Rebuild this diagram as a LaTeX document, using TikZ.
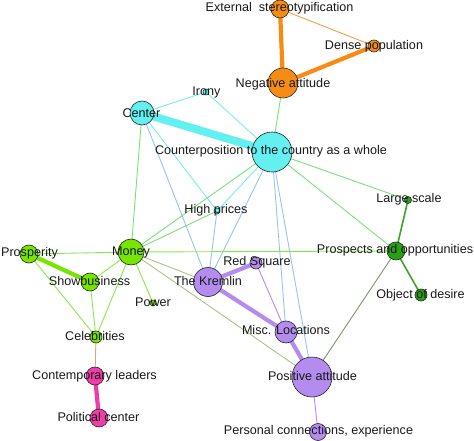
\documentclass[tikz,border=0pt]{standalone}
\usepackage{fontspec}
\setmainfont{Liberation Sans}
\pgfdeclarelayer{bg}
\pgfsetlayers{bg,main}
\definecolor{cOr}{RGB}{247,140,20}
\definecolor{cCy}{RGB}{100,240,240}
\definecolor{cGr}{RGB}{118,230,0}
\definecolor{cDg}{RGB}{40,160,20}
\definecolor{cPu}{RGB}{180,140,240}
\definecolor{cPk}{RGB}{238,60,168}
\definecolor{eGG}{RGB}{135,232,75}
\definecolor{eGC}{RGB}{120,225,120}
\definecolor{eCC}{RGB}{120,236,236}
\definecolor{eCP}{RGB}{150,195,240}
\definecolor{eGP}{RGB}{170,195,135}
\definecolor{eDP}{RGB}{115,150,100}
\definecolor{eDG}{RGB}{60,165,40}
\definecolor{eGK}{RGB}{200,175,115}
\definecolor{eOO}{RGB}{245,160,70}
\definecolor{ePP}{RGB}{180,140,240}
\tikzset{
  vtx/.style={circle, draw=black!85, line width=0.6pt, minimum size=#1, inner sep=0pt},
  lbl/.style={inner sep=0pt, text height=9pt, text depth=2.6pt, font=\fontsize{12.6}{14}\selectfont, text=black!90},
  thin edge/.style={line width=0.9pt},
  mid edge/.style={line width=1.6pt},
  thick edge/.style={line width=4.2pt},
}
\begin{document}
\begin{tikzpicture}[x=1pt,y=-1pt]
\useasboundingbox (0,0) rectangle (474,441);
% circles
\node[vtx=18pt, fill=cOr] (es) at (280,9) {};
\node[vtx=12pt, fill=cOr] (dp) at (374,46) {};
\node[vtx=30pt, fill=cOr] (na) at (283,83) {};
\node[vtx=6pt, fill=cCy] (ir) at (206,92) {};
\node[vtx=24pt, fill=cCy] (ce) at (142,113) {};
\node[vtx=40pt, fill=cCy] (cp) at (272,152) {};
\node[vtx=6pt, fill=cCy] (hp) at (217,211) {};
\node[vtx=7pt, fill=cDg] (ls) at (408,200) {};
\node[vtx=18pt, fill=cGr] (pr) at (29,254) {};
\node[vtx=26pt, fill=cGr] (mo) at (131,252) {};
\node[vtx=18pt, fill=cDg] (po) at (396,251) {};
\node[vtx=12pt, fill=cPu] (rs) at (256,263) {};
\node[vtx=18pt, fill=cGr] (sb) at (90,282) {};
\node[vtx=29pt, fill=cPu] (kr) at (208,282) {};
\node[vtx=12pt, fill=cDg] (od) at (421,295) {};
\node[vtx=6pt, fill=cGr] (pw) at (153,303) {};
\node[vtx=12pt, fill=cGr] (cb) at (96,337) {};
\node[vtx=22pt, fill=cPu] (ml) at (286,332) {};
\node[vtx=18pt, fill=cPk] (cl) at (95,376) {};
\node[vtx=40pt, fill=cPu] (pa) at (312,377) {};
\node[vtx=18pt, fill=cPk] (pc) at (99,418) {};
\node[vtx=17pt, fill=cPu] (pe) at (318,432) {};
% edges
\begin{pgfonlayer}{bg}
\draw[thick edge, cOr] (es.center) -- (na.center);
\draw[thick edge, cOr] (na.center) -- (dp.center);
\draw[thin edge, eOO] (es.center) -- (dp.center);
\draw[thin edge, eGC] (na.center) -- (cp.center);
\draw[line width=8pt, cCy] (ce.center) -- (cp.center);
\draw[thin edge, eCC] (ce.center) -- (ir.center);
\draw[thin edge, eCC] (ir.center) -- (cp.center);
\draw[thin edge, eCC] (ce.center) -- (hp.center);
\draw[thin edge, eCC] (cp.center) -- (hp.center);
\draw[thin edge, eGC] (ce.center) -- (mo.center);
\draw[thin edge, eCP] (ce.center) -- (kr.center);
\draw[thin edge, eGC] (cp.center) -- (mo.center);
\draw[thin edge, eCP] (cp.center) -- (kr.center);
\draw[thin edge, eCP] (cp.center) -- (ml.center);
\draw[thin edge, eCP] (cp.center) -- (pa.center);
\draw[thin edge, eGC] (cp.center) -- (ls.center);
\draw[thin edge, eGC] (cp.center) -- (po.center);
\draw[thin edge, eGC] (mo.center) -- (hp.center);
\draw[thin edge, eCP] (hp.center) -- (kr.center);
\draw[thin edge, eGG] (mo.center) -- (po.center);
\draw[thin edge, eGG] (mo.center) -- (pr.center);
\draw[thin edge, eGG] (mo.center) -- (sb.center);
\draw[thin edge, eGG] (mo.center) -- (cb.center);
\draw[thin edge, eGG] (mo.center) -- (pw.center);
\draw[thin edge, eGP] (mo.center) -- (kr.center);
\draw[thin edge, eGP] (mo.center) -- (pa.center);
\draw[mid edge, eDG] (po.center) -- (ls.center);
\draw[mid edge, eDG] (po.center) -- (od.center);
\draw[thin edge, eDP] (po.center) -- (pa.center);
\draw[thick edge, cGr] (pr.center) -- (sb.center);
\draw[thin edge, eGG] (pr.center) -- (cb.center);
\draw[thin edge, eGG] (sb.center) -- (cb.center);
\draw[thin edge, eGK] (cb.center) -- (cl.center);
\draw[thick edge, cPk] (cl.center) -- (pc.center);
\draw[thick edge, ePP] (kr.center) -- (rs.center);
\draw[thick edge, ePP] (kr.center) -- (ml.center);
\draw[thick edge, ePP] (ml.center) -- (pa.center);
\draw[thin edge, ePP] (rs.center) -- (ml.center);
\draw[thin edge, ePP] (pa.center) -- (pe.center);
\end{pgfonlayer}
% labels
\node[lbl] (les) at (279.5,8) {External\ \ stereotypification};
\node[lbl] (ldp) at (374,46) {Dense population};
\node[lbl] (lna) at (283,84) {Negative attitude};
\node[lbl] (lir) at (206.5,92) {Irony};
\node[lbl] (lce) at (141.5,114) {Center};
\node[lbl] (lcp) at (271,151) {Counterposition to the country as a whole};
\node[lbl] (lhp) at (216,210) {High prices};
\node[lbl] (lls) at (409,199) {Large scale};
\node[lbl] (lpr) at (29.5,253) {Prosperity};
\node[lbl] (lmo) at (131,252) {Money};
\node[lbl] (lpo) at (395,250) {Prospects and opportunities};
\node[lbl] (lrs) at (257,262) {Red Square};
\node[lbl] (lsb) at (89.5,282) {Showbusiness};
\node[lbl] (lkr) at (208,282) {The Kremlin};
\node[lbl] (lod) at (420.5,295) {Object of desire};
\node[lbl] (lpw) at (153,303) {Power};
\node[lbl] (lcb) at (95,337) {Celebrities};
\node[lbl] (lml) at (286,331) {Misc. Locations};
\node[lbl] (lcl) at (94.5,376) {Contemporary leaders};
\node[lbl] (lpa) at (312.5,377) {Positive attitude};
\node[lbl] (lpc) at (98.5,418) {Political center};
\node[lbl] (lpe) at (318.5,431) {Personal connections, experience};
\end{tikzpicture}
\end{document}
